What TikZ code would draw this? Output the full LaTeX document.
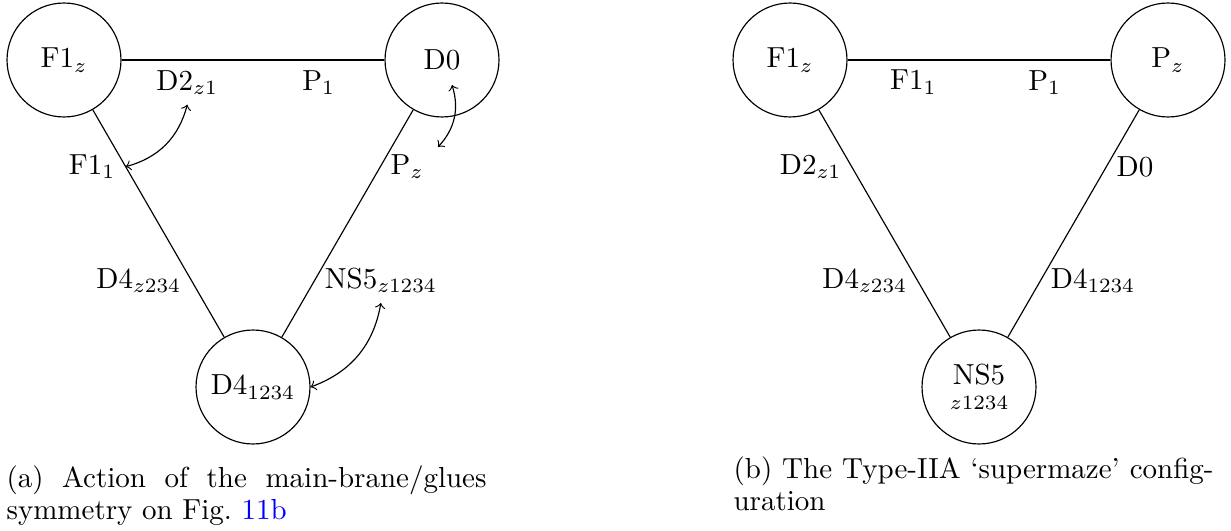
\documentclass[tikz,border=0pt]{standalone}
\usepackage{xcolor}
\usetikzlibrary{calc}
\begin{document}
\begin{tikzpicture}[x=0.34483pt,y=-0.34483pt,
  brane/.style={draw,circle,minimum size=39.3pt,inner sep=0pt},
  glue/.style={<->},
  capt/.style={anchor=north west,inner sep=0pt,text width=165.5pt,align=justify}
]
\useasboundingbox (0,0) rectangle (1231,531);
% ---------- (a) ----------
\node[brane] (A1) at (64,60) {F1$_z$};
\node[brane] (A2) at (442,60) {D0};
\node[brane] (A3) at (253,387) {D4$_{1234}$};
\draw (A1) -- node[pos=.25,below] (a12a) {D2$_{z1}$} node[pos=.75,below] (a12b) {P$_1$} (A2);
\draw (A1) -- node[pos=.25,left] (a13a) {F1$_1$} node[pos=.75,left] (a13b) {D4$_{z234}$} (A3);
\draw (A2) -- node[pos=.25,right] (a23a) {P$_z$} node[pos=.75,right] (a23b) {NS5$_{z1234}$} (A3);
\draw[glue] (a12a.south) to[bend left] (a13a.east);
\coordinate (p1) at ($(A2)+(10,25)$);
\coordinate (p2) at ($(A2)+(-4,87)$);
\draw[glue] (p1) to[bend left] (p2);
\draw[glue] (a23b.south) to[bend left] (A3.east);
\node[capt] (capa) at (6,465) {\noindent\baselineskip=10.93pt (a) Action of the main-brane/glues\linebreak symmetry on Fig.~\textcolor{blue}{11b}\par};
% ---------- (b) ----------
\node[brane] (B1) at (790,60) {F1$_z$};
\node[brane] (B2) at (1168,60) {P$_z$};
\node[brane,align=center] (B3) at (979,387) {NS5\\[-3.4pt]$\scriptstyle z1234$};
\draw (B1) -- node[pos=.25,below] (b12a) {F1$_1$} node[pos=.75,below] (b12b) {P$_1$} (B2);
\draw (B1) -- node[pos=.25,left] (b13a) {D2$_{z1}$} node[pos=.75,left] (b13b) {D4$_{z234}$} (B3);
\draw (B2) -- node[pos=.25,right] (b23a) {D0} node[pos=.75,right] (b23b) {D4$_{1234}$} (B3);
\node[capt] (capb) at (733,456.5) {\noindent\baselineskip=10.93pt (b) The Type-IIA `supermaze' config-\linebreak uration\par};
\end{tikzpicture}
\end{document}
